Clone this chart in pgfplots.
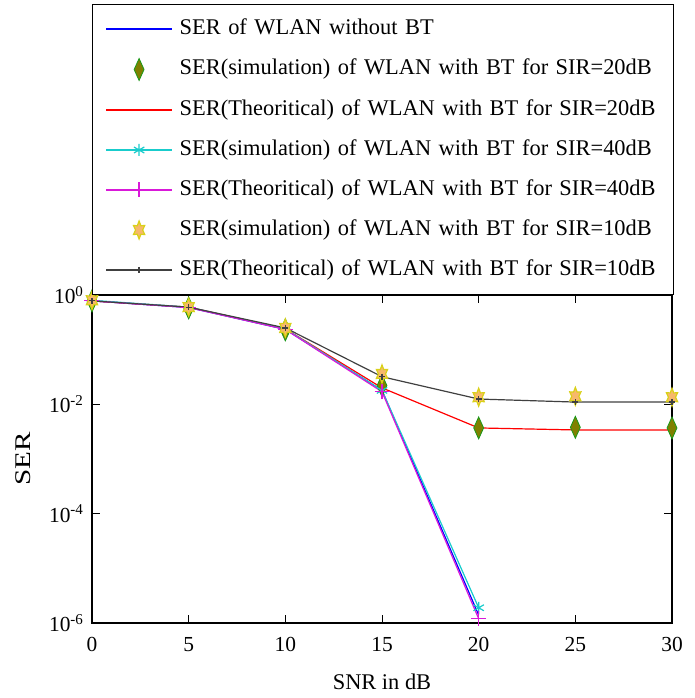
\documentclass[border=0pt]{standalone}
\usepackage{fontspec}
\setmainfont{Liberation Serif}
\usepackage{pgfplots}
\pgfplotsset{compat=1.18}
\usetikzlibrary{plotmarks}

\pgfdeclareplotmark{hexagram}{%
  \pgfpathmoveto{\pgfpointpolar{90}{\pgfplotmarksize}}%
  \pgfpathlineto{\pgfpointpolar{120}{0.55\pgfplotmarksize}}%
  \pgfpathlineto{\pgfpointpolar{150}{\pgfplotmarksize}}%
  \pgfpathlineto{\pgfpointpolar{180}{0.55\pgfplotmarksize}}%
  \pgfpathlineto{\pgfpointpolar{210}{\pgfplotmarksize}}%
  \pgfpathlineto{\pgfpointpolar{240}{0.55\pgfplotmarksize}}%
  \pgfpathlineto{\pgfpointpolar{270}{\pgfplotmarksize}}%
  \pgfpathlineto{\pgfpointpolar{300}{0.55\pgfplotmarksize}}%
  \pgfpathlineto{\pgfpointpolar{330}{\pgfplotmarksize}}%
  \pgfpathlineto{\pgfpointpolar{0}{0.55\pgfplotmarksize}}%
  \pgfpathlineto{\pgfpointpolar{30}{\pgfplotmarksize}}%
  \pgfpathlineto{\pgfpointpolar{60}{0.55\pgfplotmarksize}}%
  \pgfpathclose
  \pgfusepathqfillstroke
}

\definecolor{olivefill}{rgb}{0.5,0.5,0.0}
\definecolor{greenedge}{rgb}{0.1,0.6,0.1}
\definecolor{starfill}{rgb}{0.97,0.72,0.42}
\definecolor{staredge}{rgb}{0.85,0.82,0.1}
\definecolor{mcyan}{rgb}{0.1,0.8,0.8}
\definecolor{mmag}{rgb}{0.85,0.1,0.85}
\definecolor{mgray}{rgb}{0.25,0.25,0.25}

\begin{document}
\begin{tikzpicture}
\begin{axis}[
  scale only axis, width=580bp, height=328bp,
  ymode=log, xmin=0, xmax=30, ymin=1e-6, ymax=1,
  xtick={0,5,...,30}, ytick={1e-6,1e-4,1e-2,1},
  yticklabels={10\textsuperscript{-6},10\textsuperscript{-4},10\textsuperscript{-2},10\textsuperscript{0}},
  yminorticks=false, xminorticks=false,
  tick align=inside, major tick length=8bp,
  tick style={black, line width=0.9bp},
  axis line style={line width=1.1bp},
  ticklabel style={font=\fontsize{21.5}{24}\selectfont},
  xticklabel style={yshift=-11bp},
  yticklabel style={xshift=-5bp},
  /pgf/number format/assume math mode=true,
  xlabel={SNR in dB}, ylabel={\scalebox{1.3}[1]{SER}},
  label style={font=\fontsize{22.5}{26}\selectfont},
  xlabel style={at={(rel axis cs:0.5,0)}, anchor=center, yshift=-59bp},
  ylabel style={at={(rel axis cs:0,0.5)}, anchor=center, yshift=69bp},
  clip=false,
  legend cell align=left,
  legend image code/.code={\draw[mark repeat=2,mark phase=2,#1] plot coordinates {(0bp,0bp) (33bp,0bp) (66bp,0bp)};},
  legend style={at={(0,1)}, anchor=south west, draw=black, line width=1bp,
    font=\fontsize{22.5}{27}\selectfont,
    nodes={inner sep=0pt, text height=16bp, text depth=5bp, text width=481bp},
    row sep=19bp, column sep=7bp, inner xsep=13bp, inner ysep=14bp},
]
\coordinate (bl) at (rel axis cs:0,0);

\addplot[blue, line width=1.2bp] coordinates {(0,0.78) (5,0.59) (10,0.235) (15,0.018) (20,1.4e-6)};
\addlegendentry{SER of WLAN without BT}

\addplot[only marks, mark=diamond*, mark size=11bp, mark options={xscale=0.6, fill=olivefill, draw=greenedge, line width=0.8bp}] coordinates {(0,0.78) (5,0.58) (10,0.23) (15,0.022) (20,0.0037) (25,0.0038) (30,0.0037)};
\addlegendentry{SER(simulation) of WLAN with BT for SIR=20dB}

\addplot[red, line width=1.2bp] coordinates {(0,0.78) (5,0.6) (10,0.24) (15,0.02) (20,0.0037) (25,0.0034) (30,0.0034)};
\addlegendentry{SER(Theoritical) of WLAN with BT for SIR=20dB}

\addplot[mcyan, line width=1.2bp, mark=asterisk, mark size=6bp] coordinates {(0,0.8) (5,0.6) (10,0.24) (15,0.018) (20,1.9e-6)};
\addlegendentry{SER(simulation) of WLAN with BT for SIR=40dB}

\addplot[mmag, line width=1.2bp, mark=+, mark size=7.5bp] coordinates {(0,0.78) (5,0.59) (10,0.235) (15,0.017) (20,1.2e-6)};
\addlegendentry{SER(Theoritical) of WLAN with BT for SIR=40dB}

\addplot[only marks, mark=hexagram, mark size=9bp, mark options={xscale=0.72, fill=starfill, draw=staredge, line width=1.2bp}] coordinates {(0,0.8) (5,0.6) (10,0.25) (15,0.036) (20,0.0135) (25,0.014) (30,0.0135)};
\addlegendentry{SER(simulation) of WLAN with BT for SIR=10dB}

\addplot[mgray, line width=1.2bp, mark=+, mark size=3bp] coordinates {(0,0.78) (5,0.6) (10,0.25) (15,0.032) (20,0.0125) (25,0.011) (30,0.011)};
\addlegendentry{SER(Theoritical) of WLAN with BT for SIR=10dB}
\end{axis}
\pgfresetboundingbox
\path[use as bounding box] ([shift={(-92bp,-75bp)}]bl) rectangle ([shift={(603bp,623bp)}]bl);
\end{tikzpicture}
\end{document}
